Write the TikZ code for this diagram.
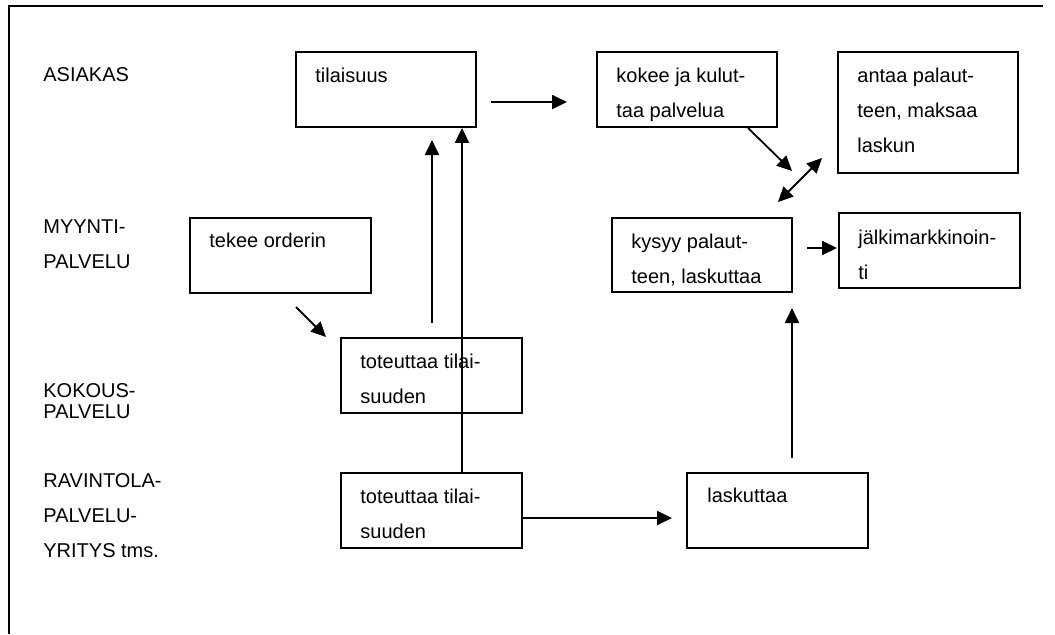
\documentclass[tikz,border=0pt]{standalone}
\usepackage{fontspec}
\setmainfont{Liberation Sans}
\usetikzlibrary{arrows.meta}
\newcommand{\twoln}[2]{\vtop{\baselineskip=17.5pt\hbox{#1}\hbox{#2}}}
\newcommand{\threeln}[3]{\vtop{\baselineskip=17.5pt\hbox{#1}\hbox{#2}\hbox{#3}}}
\begin{document}
\begin{tikzpicture}[x=0.5pt,y=-0.5pt,
  box/.style={draw,line width=0.9pt,rectangle,inner sep=0pt,minimum width=90pt,minimum height=37.5pt},
  lbl/.style={anchor=base west,inner sep=0pt,font=\fontsize{10pt}{17.5pt}\selectfont},
  conn/.style={line width=0.9pt,-{Triangle[length=7.5pt,width=7pt]}},
  bothconn/.style={line width=0.9pt,{Triangle[length=7.5pt,width=7pt]}-{Triangle[length=7.5pt,width=7pt]}}]
\useasboundingbox (0,0) rectangle (1055,634);
% frame
\draw[line width=1pt] (9,634) -- (9,6) -- (1043,6);
% row labels
\node[lbl] (rA) at (43,81) {ASIAKAS};
\node[lbl] (rM) at (43,233) {\twoln{MYYNTI-}{PALVELU}};
\node[lbl] (rK) at (43,397) {\vtop{\baselineskip=10.5pt\hbox{KOKOUS-}\hbox{PALVELU}}};
\node[lbl] (rR) at (43,487) {\threeln{RAVINTOLA-}{PALVELU-}{YRITYS tms.}};
% boxes
\node[box] (til) at (386,89.5) {};
\node[box] (kok) at (687,89.5) {};
\node[box,minimum height=60.5pt] (ant) at (928,112.5) {};
\node[box,minimum width=90.5pt] (tek) at (280.5,255.5) {};
\node[box,minimum height=37pt] (kys) at (702,255) {};
\node[box,minimum width=90.5pt] (jal) at (929.5,250.5) {};
\node[box,minimum width=90.5pt] (tot1) at (431.5,375.5) {};
\node[box,minimum width=90.5pt] (tot2) at (431.5,510.5) {};
\node[box,minimum width=90.5pt] (las) at (777.5,510.5) {};
% box texts
\node[lbl] (ttil) at (315,82) {tilaisuus};
\node[lbl] (tkok) at (616,82) {\twoln{kokee ja kulut-}{taa palvelua}};
\node[lbl] (tant) at (857,82) {\threeln{antaa palaut-}{teen, maksaa}{laskun}};
\node[lbl] (ttek) at (209,247) {tekee orderin};
\node[lbl] (tkys) at (631,248) {\twoln{kysyy palaut-}{teen, laskuttaa}};
\node[lbl] (tjal) at (858,244) {\twoln{jälkimarkkinoin-}{ti}};
\node[lbl] (ttot1) at (360,368) {\twoln{toteuttaa tilai-}{suuden}};
\node[lbl] (ttot2) at (360,503) {\twoln{toteuttaa tilai-}{suuden}};
\node[lbl] (tlas) at (707,502) {laskuttaa};
% free connector ends
\coordinate (a1s) at (491,102);
\coordinate (a1e) at (567,102);
\coordinate (a2s) at (748,128);
\coordinate (a2e) at (792,171);
\coordinate (a3s) at (778,202);
\coordinate (a3e) at (822,158);
\coordinate (a4s) at (807,248);
\coordinate (a4e) at (837,248);
\coordinate (a5s) at (296,307);
\coordinate (a5e) at (326,337);
\coordinate (a6s) at (432,323);
\coordinate (a6e) at (432,140);
\coordinate (a8s) at (792,458);
\coordinate (a8e) at (792,308);
\coordinate (a9e) at (672,518);
% connectors
\draw[conn] (a1s) -- (a1e);
\draw[conn] (a2s) -- (a2e);
\draw[bothconn] (a3s) -- (a3e);
\draw[conn] (a4s) -- (a4e);
\draw[conn] (a5s) -- (a5e);
\draw[conn] (a6s) -- (a6e);
\draw[conn] (tot2.north -| 462,0) -- (til.south -| 462,0);
\draw[conn] (a8s) -- (a8e);
\draw[conn] (tot2.east |- a9e) -- (a9e);
\end{tikzpicture}
\end{document}
